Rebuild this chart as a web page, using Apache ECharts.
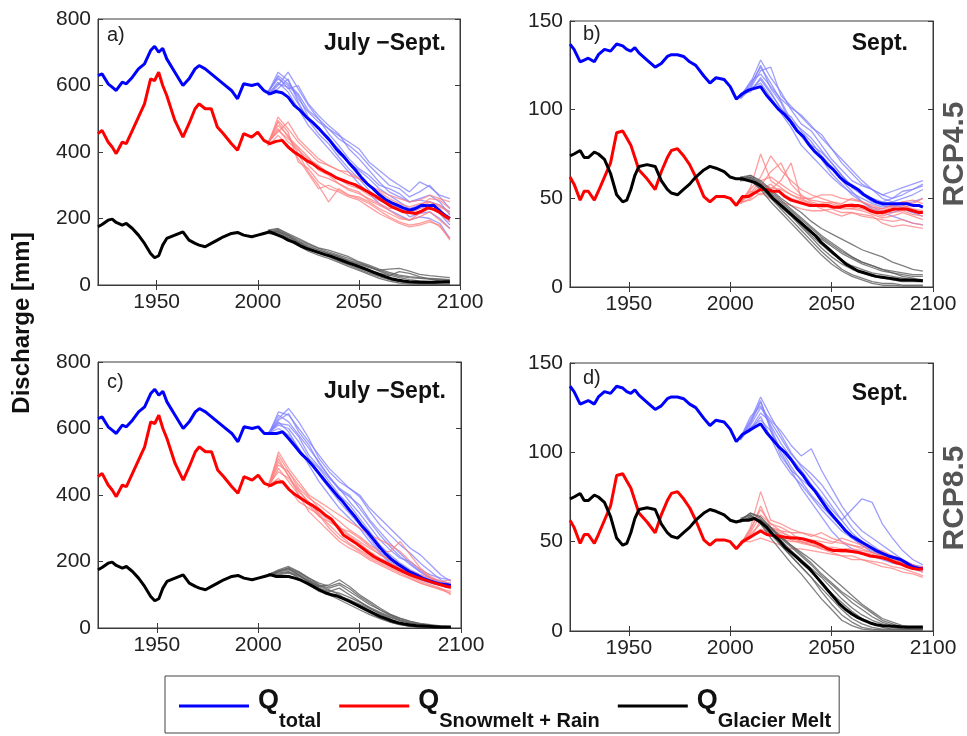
<!DOCTYPE html>
<html>
<head>
<meta charset="utf-8">
<script src="https://cdn.jsdelivr.net/npm/echarts@6/dist/echarts.min.js"></script>
<style>
html,body{margin:0;padding:0;background:#fff;}
#chart{width:967px;height:736px;}
</style>
</head>
<body>
<div id="chart"></div>
<script>
// ---------- DATA ----------
const xTicks = [1950, 2000, 2050, 2100];
const histYears = [1921,1923,1926,1928,1930,1933,1935,1938,1941,1944,1947,1949,1951,1953,1955,1959,1963,1966,1969,1971,1974,1977,1980,1983,1987,1990,1993,1997,2000,2003];
const futYears = [2006,2009,2012,2015,2018,2021,2024,2027,2030,2033,2036,2039,2042,2045,2048,2051,2054,2057,2060,2063,2066,2069,2072,2075,2078,2081,2084,2087,2090,2093,2095];
const ensYears = [2005,2010,2015,2020,2025,2030,2035,2040,2045,2050,2055,2060,2065,2070,2075,2080,2085,2090,2095];

// July-Sept (panels a, c) historical
const totalHistJAS = [630,635,605,595,585,610,605,625,650,665,705,718,700,712,680,640,600,620,650,660,650,635,620,605,585,560,605,600,605,585];
const snowHistJAS  = [455,465,430,415,395,430,425,465,505,545,620,615,640,600,570,495,445,485,530,545,530,530,475,455,425,405,455,445,460,435];
const glacHistJAS  = [175,182,195,198,188,180,185,170,150,125,95,82,88,120,140,150,160,135,125,120,115,125,135,145,155,158,150,145,150,155];
// Sept (panels b, d) historical
const totalHistSep = [137,134,127,128,129,127,131,134,133,137,136,134,133,135,132,128,124,126,130,131,131,130,127,125,119,115,118,117,113,106];
const snowHistSep  = [62,58,49,54,54,49,54,62,70,87,88,84,80,73,66,61,55,65,73,77,78,74,69,62,51,48,51,51,50,46];
const glacHistSep  = [74,75,77,73,73,76,75,72,64,52,48,49,55,63,68,69,68,60,55,53,52,55,58,62,66,68,67,65,62,61];

// ensemble means, future
const totalFutA = [575,582,578,565,540,525,505,490,472,452,432,408,390,368,348,325,305,290,272,258,248,240,232,225,230,240,238,240,222,208,200];
const snowFutA  = [425,432,435,415,400,388,375,365,352,342,333,322,315,308,302,292,282,272,260,248,236,228,220,218,215,222,232,228,218,205,200];
const glacFutA  = [160,152,145,135,128,118,110,104,98,92,87,80,73,66,60,53,46,39,32,25,19,15,12,10,9,8,8,8,9,10,10];
const totalFutB = [109,111,112,113,108,104,100,97,93,88,85,80,76,73,69,66,62,59,57,55,52,50,48,47,47,47,47,47,46,46,45];
const snowFutB  = [51,51,53,55,55,54,54,51,49,48,47,46,46,46,46,45,45,46,46,46,45,43,42,42,43,44,44,44,43,42,42];
const glacFutB  = [61,60,59,57,54,50,47,44,41,38,35,32,29,25,22,19,16,13,11,9,8,7,6,5.5,5,4.5,4,4,4,3.6,3.5];
const totalFutC = [585,585,590,570,548,525,508,488,465,442,420,398,378,355,333,308,288,265,242,222,205,192,180,168,160,150,143,137,132,130,128];
const snowFutC  = [428,438,440,418,402,390,378,368,355,340,328,305,280,268,256,242,228,215,205,196,186,177,168,160,153,147,141,135,130,125,123];
const glacFutC  = [160,155,155,155,150,144,135,125,115,106,100,96,88,80,71,62,53,44,35,28,21,16,12,9,7,6,5,4,3,3,3];
const totalFutD = [110,112,114,116,111,107,103,100,96,91,87,82,78,73,68,64,60,56,53,51,49,47,45,43.5,42,41,40,38,36,35,35];
const snowFutD  = [50,52,54,56,54,53.5,53,52.5,52,52,51.5,50.5,49.5,48,46,45,45,45,44.5,44,43,42,41.5,41,40,38.5,37.5,36,35,34.5,35];
const glacFutD  = [62,62,63,61,58,54,51,47,44,41,38,35,31,27,23,19,15,12,9.5,7.5,6,4.5,3.5,3,2.8,2.6,2.4,2.3,2.2,2.2,2.2];

// ensemble members (one row per model run)
const totalEnsA = [
 [578,640,615,560,520,490,470,440,420,395,360,330,300,290,265,280,300,265,230],
 [570,600,640,590,540,500,455,420,380,350,330,300,290,275,250,260,270,250,210],
 [580,620,600,570,505,470,440,410,365,330,300,270,245,230,220,230,240,230,190],
 [575,590,620,550,495,455,425,385,350,320,285,255,240,235,205,215,220,200,170],
 [572,610,580,530,480,445,410,375,340,305,275,245,225,210,195,205,200,185,140],
 [576,630,605,575,525,500,470,450,430,410,370,345,320,300,280,310,295,270,260],
 [582,625,590,600,545,510,480,455,410,380,345,310,280,265,250,255,250,240,220],
 [574,605,595,545,500,470,445,395,370,345,320,290,270,250,230,240,235,215,180]];
const snowEnsA = [
 [420,505,470,430,400,370,360,345,330,320,300,285,270,260,250,255,270,260,250],
 [425,480,450,395,340,300,250,290,270,265,250,230,215,200,195,205,220,195,170],
 [430,460,490,440,410,380,360,345,340,320,300,280,260,245,235,245,250,235,220],
 [418,450,420,380,335,290,300,285,270,260,245,225,205,190,180,185,195,175,140],
 [425,470,430,405,380,360,335,320,300,290,270,255,240,225,215,230,250,240,215],
 [428,495,460,370,350,310,290,280,265,255,235,215,200,185,175,180,190,180,135],
 [422,490,445,415,385,345,330,305,290,280,255,240,225,205,195,215,230,215,190],
 [427,465,440,410,360,330,320,305,285,275,260,245,230,235,225,235,260,255,230]];
const glacEnsA = [
 [165,170,155,140,125,112,105,95,85,70,60,48,38,30,25,22,20,18,16],
 [160,162,145,130,115,105,95,85,72,62,52,45,48,50,42,32,28,25,22],
 [158,155,140,125,110,98,88,78,65,52,40,28,18,12,8,5,4,3,3],
 [162,160,150,132,118,106,96,86,75,64,55,42,30,22,16,12,10,8,7],
 [155,150,135,118,102,90,80,68,55,44,32,20,12,6,3,2,1,1,1],
 [160,165,148,128,112,100,90,80,70,58,46,36,28,40,35,25,18,12,10],
 [163,168,152,136,122,110,100,90,80,68,56,44,34,26,22,20,18,16,14],
 [157,158,142,126,108,95,85,72,60,48,36,25,16,10,6,4,3,2,2]];
const totalEnsB = [
 [108,115,128,118,110,100,92,88,80,72,66,60,57,55,52,50,52,55,58],
 [106,112,122,124,108,102,96,90,86,78,70,64,58,55,50,48,50,52,55],
 [109,110,118,110,100,96,88,82,74,68,60,54,48,45,43,42,44,42,40],
 [107,113,125,112,104,92,85,78,72,64,58,52,48,44,42,40,38,36,35],
 [108,112,115,107,98,90,80,74,68,62,57,53,50,47,45,46,45,43,42],
 [107,116,120,113,106,101,97,91,84,78,72,66,60,55,52,54,56,58,60],
 [108,114,124,115,105,94,86,80,76,70,63,56,52,50,48,50,54,55,57],
 [107,111,117,109,101,94,89,84,77,70,63,57,52,48,46,45,47,48,50]];
const snowEnsB = [
 [48,55,62,74,66,60,55,52,50,48,47,50,48,45,44,46,48,47,50],
 [47,50,57,65,70,58,52,48,46,45,46,45,44,42,40,42,43,41,40],
 [49,54,52,55,60,70,50,47,44,42,40,42,40,39,38,37,38,36,35],
 [48,52,58,56,55,52,50,50,52,52,50,49,48,46,44,46,48,49,47],
 [48,49,53,50,48,46,44,43,43,44,42,42,41,40,36,34,35,34,33],
 [47,56,75,60,56,52,49,47,45,45,44,44,46,44,43,45,46,44,43],
 [48,53,60,62,58,54,51,49,48,47,45,44,43,41,39,40,42,40,38],
 [49,51,55,58,53,50,48,46,47,48,46,47,45,43,41,43,45,46,45]];
const glacEnsB = [
 [62,63,60,55,50,46,42,37,33,30,27,24,21,19,17,14,12,10,9],
 [61,62,58,52,47,42,37,31,27,23,19,16,13,11,9,8,7,6,6],
 [60,60,55,48,42,36,30,24,18,13,9,6,4,2,1,1,0.5,0.5,0.5],
 [62,61,57,51,45,40,34,28,22,17,13,10,8,6,5,4,3,3,3],
 [61,63,59,54,49,44,39,34,29,25,21,17,14,12,10,8,6,5,4],
 [60,61,56,50,44,38,32,26,20,15,10,7,5,3,2,2,1,1,1],
 [61,62,58,53,48,43,38,33,28,24,20,17,14,12,10,9,8,7,7],
 [60,61,57,51,46,41,35,29,24,19,15,12,10,8,7,6,5,4,4]];
const totalEnsC = [
 [580,650,640,600,560,520,480,450,420,400,360,330,300,270,240,220,190,160,140],
 [585,630,660,620,570,510,470,440,420,395,350,310,280,250,225,195,170,145,130],
 [588,610,600,560,510,480,440,400,370,330,290,250,220,195,175,160,145,135,125],
 [582,620,590,540,490,440,400,360,330,300,260,225,195,175,160,145,135,128,120],
 [586,600,580,540,500,460,420,380,345,310,270,230,200,180,165,150,140,135,130],
 [584,640,620,580,540,500,455,420,380,345,305,265,235,210,200,175,160,150,145],
 [583,625,645,590,550,495,455,415,395,370,325,290,255,225,195,170,150,138,128],
 [587,615,610,575,520,485,450,420,400,360,320,280,245,215,190,168,150,140,132]];
const snowEnsC = [
 [420,530,480,440,400,380,360,340,320,300,280,265,250,230,200,175,150,130,120],
 [430,470,450,410,380,340,300,270,250,230,210,195,180,165,150,135,125,115,105],
 [425,500,460,400,350,320,290,260,240,225,205,190,175,160,148,135,125,118,110],
 [428,450,420,380,360,340,310,280,255,235,215,200,185,170,155,140,130,120,100],
 [422,480,440,400,370,335,320,300,290,270,245,220,205,185,170,160,150,140,135],
 [430,520,470,420,390,370,345,320,295,275,250,230,230,260,220,180,155,140,145],
 [424,510,455,415,375,345,325,300,275,255,230,210,195,180,165,150,138,128,118],
 [426,490,470,430,395,360,330,305,280,260,240,222,205,190,172,155,142,132,125]];
const glacEnsC = [
 [160,175,185,170,150,130,120,130,110,90,70,55,40,28,20,14,10,6,4],
 [158,170,180,160,140,125,130,145,125,100,80,60,42,30,20,12,8,5,3],
 [162,165,170,150,130,110,100,85,70,55,40,28,18,10,5,3,2,1,1],
 [160,160,165,155,140,120,105,95,85,72,58,45,32,22,15,10,6,4,3],
 [158,168,175,160,138,118,110,120,100,80,60,42,28,15,8,4,2,1,1],
 [161,172,178,165,145,128,115,100,80,62,45,30,18,10,5,3,1,1,0],
 [159,163,168,158,142,124,112,105,92,78,62,48,34,22,14,8,5,3,2],
 [161,170,182,168,150,135,125,135,118,95,75,55,38,25,16,10,6,3,2]];
const totalEnsD = [
 [108,118,131,120,110,100,92,85,78,70,62,55,50,46,42,40,38,36,34],
 [107,115,125,118,112,104,98,102,90,80,70,62,56,52,48,44,40,37,35],
 [109,112,120,108,96,88,82,75,68,62,56,52,48,44,42,40,38,35,33],
 [108,116,128,115,105,97,90,82,75,68,62,68,74,72,60,52,45,40,37],
 [107,114,118,112,102,92,84,76,70,64,58,52,48,45,42,40,38,36,34],
 [108,120,126,114,100,90,80,72,64,56,50,46,44,42,40,38,37,35,34],
 [109,113,122,117,108,99,93,88,82,74,66,58,52,48,44,41,39,37,35],
 [108,117,129,112,98,90,85,80,74,66,58,53,49,46,43,41,39,37,36]];
const snowEnsD = [
 [48,58,78,62,60,57,55,54,52,50,49,48,46,44,42,40,38,35,33],
 [49,54,60,58,56,55,55,53,55,52,50,48,47,46,45,42,40,37,34],
 [50,50,52,50,48,46,46,45,44,43,42,42,40,39,38,36,35,33,31],
 [49,55,65,60,58,55,50,48,46,44,42,40,40,38,36,35,33,32,30],
 [48,53,57,55,52,50,50,48,46,45,44,44,43,42,41,40,38,36,36],
 [49,56,70,58,55,53,52,51,50,49,52,50,48,46,44,41,39,37,35],
 [48,57,68,60,56,52,50,49,47,46,45,45,44,43,41,39,37,35,34],
 [50,52,62,57,54,51,49,48,47,47,46,46,45,44,42,40,38,36,35]];
const glacEnsD = [
 [62,66,64,58,52,48,44,40,35,30,25,20,15,11,7,5,3,2,2],
 [61,64,62,56,48,42,36,30,22,15,9,5,2,1,0.5,0.5,0.5,0.5,0.5],
 [63,65,60,54,48,42,36,30,24,18,12,7,4,2,1,1,1,1,1],
 [62,63,62,58,53,48,43,38,32,27,22,18,14,10,6,4,2,1,1],
 [61,64,60,52,45,38,32,25,18,12,6,3,1,0.5,0.5,0.5,0.5,0.5,0.5],
 [62,66,63,58,51,45,40,35,30,24,18,13,9,6,4,2,1,1,1],
 [62,65,61,56,50,44,38,33,27,21,16,11,7,4,2,1,1,1,1],
 [61,63,62,57,52,47,42,37,31,26,21,16,12,8,5,3,2,1,1]];

const seriesNames = ['Q total', 'Q Snowmelt + Rain', 'Q Glacier Melt'];
const panelLetters = ['a)', 'b)', 'c)', 'd)'];
const periodLabels = ['July \u2212Sept.', 'Sept.', 'July \u2212Sept.', 'Sept.'];
const scenarioLabels = ['RCP4.5', 'RCP8.5'];

// ---------- BUILD ----------
const FONT = "'Liberation Sans', Arial, Helvetica, sans-serif";
const pairs = (xs, ys) => xs.map((x, i) => [x, ys[i]]);

const panels = [
  {grid:{left:98, top:19, width:362, height:266}, yMax:800, yInt:200,
   main:[totalHistJAS.concat(totalFutA), snowHistJAS.concat(snowFutA), glacHistJAS.concat(glacFutA)],
   ens:[totalEnsA, snowEnsA, glacEnsA]},
  {grid:{left:570, top:21, width:363, height:266}, yMax:150, yInt:50,
   main:[totalHistSep.concat(totalFutB), snowHistSep.concat(snowFutB), glacHistSep.concat(glacFutB)],
   ens:[totalEnsB, snowEnsB, glacEnsB]},
  {grid:{left:98, top:362, width:363, height:266}, yMax:800, yInt:200,
   main:[totalHistJAS.concat(totalFutC), snowHistJAS.concat(snowFutC), glacHistJAS.concat(glacFutC)],
   ens:[totalEnsC, snowEnsC, glacEnsC]},
  {grid:{left:570, top:363, width:363, height:268}, yMax:150, yInt:50,
   main:[totalHistSep.concat(totalFutD), snowHistSep.concat(snowFutD), glacHistSep.concat(glacFutD)],
   ens:[totalEnsD, snowEnsD, glacEnsD]}
];
const allYears = histYears.concat(futYears);
const mainColors = ['#0000ff', '#ff0000', '#000000'];
const ensColors = ['rgba(125,125,255,0.75)', 'rgba(255,125,125,0.75)', 'rgba(95,95,95,0.8)'];

const grids = [], xAxes = [], yAxes = [], series = [];
const axisColor = '#3a3a3a';
panels.forEach((p, i) => {
  grids.push(Object.assign({show:true, borderColor:axisColor, borderWidth:1, containLabel:false}, p.grid));
  const xBase = {type:'value', gridIndex:i, min:1921, max:2100,
    axisLine:{show:true, lineStyle:{color:axisColor}}, splitLine:{show:false}};
  xAxes.push(Object.assign({}, xBase, {position:'bottom',
    axisTick:{show:true, inside:true, length:5, customValues:xTicks, lineStyle:{color:axisColor}},
    axisLabel:{show:true, customValues:xTicks, margin:7, color:'#222', fontSize:21, fontFamily:FONT,
      formatter: v => String(Math.round(v))}}));
  xAxes.push(Object.assign({}, xBase, {position:'top',
    axisTick:{show:true, inside:true, length:5, customValues:xTicks, lineStyle:{color:axisColor}},
    axisLabel:{show:false}}));
  const yBase = {type:'value', gridIndex:i, min:0, max:p.yMax, interval:p.yInt,
    axisLine:{show:true, lineStyle:{color:axisColor}}, splitLine:{show:false},
    axisTick:{show:true, inside:true, length:5, lineStyle:{color:axisColor}}};
  yAxes.push(Object.assign({}, yBase, {position:'left',
    axisLabel:{show:true, margin:7, color:'#222', fontSize:21, fontFamily:FONT}}));
  yAxes.push(Object.assign({}, yBase, {position:'right', axisLabel:{show:false}}));

  // ensemble members
  p.ens.forEach((members, k) => {
    members.forEach((m, j) => {
      series.push({type:'line', name:'ens' + k + '_' + i + '_' + j, xAxisIndex:2*i, yAxisIndex:2*i,
        data:pairs(ensYears, m), showSymbol:false, silent:true, z:2 + k*0.1,
        lineStyle:{color:ensColors[k], width:1.3}, itemStyle:{color:ensColors[k]}});
    });
  });
  // ensemble mean + historical
  p.main.forEach((vals, k) => {
    series.push({type:'line', name:seriesNames[k], xAxisIndex:2*i, yAxisIndex:2*i,
      data:pairs(allYears, vals), showSymbol:false, z:5,
      lineStyle:{color:mainColors[k], width:3}, itemStyle:{color:mainColors[k]}});
  });
});

// panel annotations
const letterPos = [[107,35],[583,34],[107,382],[583,378]];
const periodPos = [[446,44],[908,44],[446,392],[908,394]];
const graphics = [];
panels.forEach((p, i) => {
  graphics.push({type:'text', x:letterPos[i][0], y:letterPos[i][1], z:10,
    style:{text:panelLetters[i], fontSize:20, fontFamily:FONT, fill:'#222', align:'left', verticalAlign:'middle'}});
  graphics.push({type:'text', x:periodPos[i][0], y:periodPos[i][1], z:10,
    style:{text:periodLabels[i], fontSize:23, fontWeight:'bold', fontFamily:FONT, fill:'#111', align:'right', verticalAlign:'middle'}});
});
graphics.push({type:'text', x:22, y:323, rotation:Math.PI/2, z:10,
  style:{text:'Discharge [mm]', fontSize:24, fontWeight:'bold', fontFamily:FONT, fill:'#111', align:'center', verticalAlign:'middle'}});
graphics.push({type:'text', x:955, y:154, rotation:Math.PI/2, z:10,
  style:{text:scenarioLabels[0], fontSize:30, fontWeight:'bold', fontFamily:FONT, fill:'#555', align:'center', verticalAlign:'middle'}});
graphics.push({type:'text', x:955, y:498, rotation:Math.PI/2, z:10,
  style:{text:scenarioLabels[1], fontSize:30, fontWeight:'bold', fontFamily:FONT, fill:'#555', align:'center', verticalAlign:'middle'}});

const chart = echarts.init(document.getElementById('chart'), null, {renderer:'canvas'});
chart.setOption({
  animation:false,
  backgroundColor:'#fff',
  grid:grids, xAxis:xAxes, yAxis:yAxes, series:series, graphic:graphics,
  legend:{
    data:seriesNames, left:165, top:676, orient:'horizontal',
    icon:'rect', itemWidth:70, itemHeight:3, itemGap:18,
    padding:[11, 8, 2, 14], borderColor:'#444', borderWidth:1, backgroundColor:'#fff',
    selectedMode:false,
    formatter: name => '{q|Q}{s|' + name.slice(2) + '}',
    textStyle:{fontFamily:FONT, color:'#111', padding:[22,0,0,4],
      rich:{
        q:{fontSize:27, fontWeight:'bold', fontFamily:FONT, lineHeight:28, verticalAlign:'bottom', padding:[0,0,17,0], color:'#111'},
        s:{fontSize:20, fontWeight:'bold', fontFamily:FONT, lineHeight:22, verticalAlign:'bottom', color:'#111'}
      }}
  }
});
</script>
</body>
</html>
